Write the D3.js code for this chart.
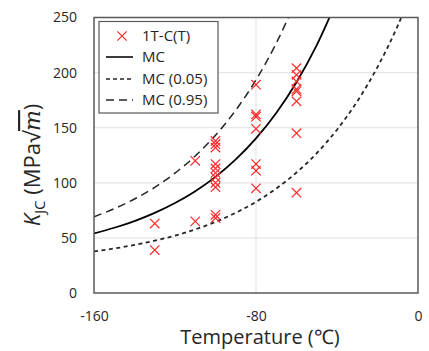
<!DOCTYPE html>
<html><head><meta charset="utf-8">
<script src="https://cdn.jsdelivr.net/npm/d3@7"></script>
<style>
html,body{margin:0;padding:0;background:#fff;}
svg text{font-family:"Open Sans",sans-serif;fill:#262626;}
</style></head>
<body><svg id="c" width="429" height="351"></svg>
<script>
// Test data (1T-C(T))
const testTemps  = [-130,-130,-110,-110,
  -100,-100,-100,-100,-100,-100,-100,-100,-100,-100,-100,
  -80,-80,-80,-80,-80,-80,-80,
  -60,-60,-60,-60,-60,-60,-60,-60];
const testKjc    = [63,39,65,120,
  138,135,132,117,113,109,105,100,96,71,68,
  189,162,160,149,117,111,95,
  204,198,192,185,183,174,145,91];
// Master curve samples
const curveTemps = [-160,-150,-140,-130,-120,-110,-100,-90,-80,-70,-60,-50,-40,-30,-20,-10,0];
const mcMedian = [54.1,59.2,65.3,72.7,81.6,92.4,105.4,121.2,140.3,163.3,191.2,224.9,265.7];
const mc005    = [37.8,40.4,43.6,47.5,52.1,57.7,64.5,72.8,82.7,94.8,109.3,126.9,148.2,173.9,205.0,242.6,288.1];
const mc095    = [69.2,76.5,85.3,95.9,108.8,124.3,143.2,165.9,193.4,226.6,266.9];
const xTicks = [-160,-80,0];
const yTicks = [0,50,100,150,200,250];
const legendLabels = ["1T-C(T)","MC","MC (0.05)","MC (0.95)"];

const svg = d3.select("#c");
const L=94, R=418, T=17.5, B=293;
const x = d3.scaleLinear().domain([-160,0]).range([L,R]);
const y = d3.scaleLinear().domain([0,250]).range([B,T]);

// gridlines
svg.append("g").selectAll("line").data(yTicks.filter(d=>d>0&&d<250)).join("line")
  .attr("x1",L).attr("x2",R).attr("y1",d=>y(d)).attr("y2",d=>y(d))
  .attr("stroke","#e6e6e6").attr("stroke-width",1.2);
svg.append("g").selectAll("line").data(xTicks.filter(d=>d>-160&&d<0)).join("line")
  .attr("y1",T).attr("y2",B).attr("x1",d=>x(d)).attr("x2",d=>x(d))
  .attr("stroke","#e6e6e6").attr("stroke-width",1.2);

// axes (labels only)
const fmt = d=>String(d);
const yAx = svg.append("g").attr("transform",`translate(${L},0)`)
  .call(d3.axisLeft(y).tickValues(yTicks).tickFormat(fmt).tickSize(0).tickPadding(17));
yAx.select(".domain").remove();
yAx.selectAll("text").attr("font-size",14).attr("fill","#262626").attr("font-family","Open Sans");
const xAx = svg.append("g").attr("transform",`translate(0,${B})`)
  .call(d3.axisBottom(x).tickValues(xTicks).tickFormat(fmt).tickSize(0).tickPadding(18));
xAx.select(".domain").remove();
xAx.selectAll("text").attr("font-size",14).attr("fill","#262626").attr("font-family","Open Sans");

// clip
svg.append("clipPath").attr("id","pc").append("rect").attr("x",L).attr("y",T).attr("width",R-L).attr("height",B-T);

const line = (vals)=> d3.line().curve(d3.curveMonotoneX)
  .x((d,i)=>x(curveTemps[i])).y(d=>y(d))(vals);
const cg = svg.append("g").attr("clip-path","url(#pc)");
cg.append("path").attr("d",line(mc095)).attr("fill","none").attr("stroke","#262626").attr("stroke-width",1.5).attr("stroke-dasharray","8,5");
cg.append("path").attr("d",line(mc005)).attr("fill","none").attr("stroke","#262626").attr("stroke-width",1.8).attr("stroke-dasharray","4,3.5");
cg.append("path").attr("d",line(mcMedian)).attr("fill","none").attr("stroke","#000").attr("stroke-width",1.8);

// X markers
const s=4.7;
const cross = (cx,cy)=>`M${cx-s},${cy-s}L${cx+s},${cy+s}M${cx-s},${cy+s}L${cx+s},${cy-s}`;
svg.append("g").selectAll("path").data(testKjc).join("path")
  .attr("d",(d,i)=>cross(x(testTemps[i]),y(d)))
  .attr("stroke","#ff2a2a").attr("stroke-width",1.2).attr("fill","none");

// border
svg.append("rect").attr("x",L).attr("y",T).attr("width",R-L).attr("height",B-T)
  .attr("fill","none").attr("stroke","#595959").attr("stroke-width",1.5);

// legend
const lg = svg.append("g");
lg.append("rect").attr("x",99).attr("y",21.5).attr("width",119).attr("height",91.5)
  .attr("fill","#fff").attr("stroke","#595959").attr("stroke-width",1.2);
const rows=[36,57,79,100];
lg.append("path").attr("d",cross(122,rows[0])).attr("stroke","#ff2a2a").attr("stroke-width",1.2);
const styles=[null,{w:1.8,da:null},{w:1.6,da:"4,3"},{w:1.5,da:"8,5"}];
for(let i=1;i<4;i++){
  lg.append("line").attr("x1",106).attr("x2",133).attr("y1",rows[i]).attr("y2",rows[i])
    .attr("stroke","#262626").attr("stroke-width",styles[i].w).attr("stroke-dasharray",styles[i].da);
}
lg.selectAll("text").data(legendLabels).join("text")
  .attr("x",142).attr("y",(d,i)=>rows[i]+5).attr("font-size",15).text(d=>d);

// axis titles
svg.append("text").attr("x",260).attr("y",344).attr("text-anchor","middle").attr("font-size",20)
  .text("Temperature (℃)");
const yt = svg.append("text").attr("transform","translate(40,165) rotate(-90)").attr("text-anchor","middle").attr("font-size",22);
yt.append("tspan").attr("font-style","italic").text("K");
yt.append("tspan").attr("font-size",15).attr("dy",5).text("JC");
yt.append("tspan").attr("dy",-5).text(" (MPa");
yt.append("tspan").text("√");
yt.append("tspan").attr("font-style","italic").attr("font-family","DejaVu Serif").style("text-decoration","overline").text("m");
yt.append("tspan").text(")");
</script></body></html>
